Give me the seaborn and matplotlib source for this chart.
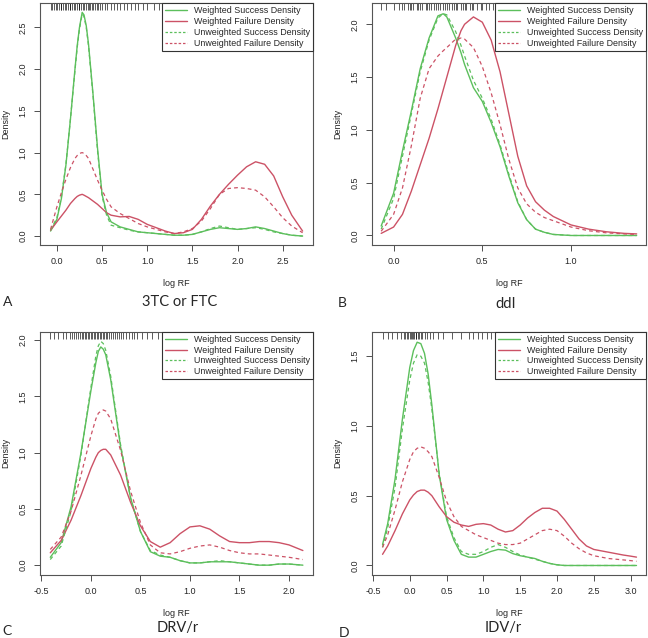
import numpy as np
import pandas as pd
import matplotlib
matplotlib.use("Agg")
import matplotlib.pyplot as plt
import seaborn as sns

# ---- data (x = log RF, y = density) ----
# Panel A: 3TC or FTC
a_x = [-0.07, 0.0, 0.05, 0.1, 0.15, 0.2, 0.225, 0.25, 0.28, 0.3, 0.325, 0.35, 0.4, 0.45, 0.5, 0.55, 0.6, 0.7,
       0.8, 0.9, 1.0, 1.1, 1.2, 1.3, 1.4, 1.5, 1.6, 1.7, 1.8, 1.9, 2.0, 2.1, 2.2, 2.3, 2.4, 2.5, 2.6, 2.72]
a_ws = [0.06, 0.20, 0.45, 0.85, 1.40, 2.00, 2.28, 2.50, 2.68, 2.65, 2.52, 2.30, 1.70, 1.05, 0.50, 0.28, 0.17, 0.11,
        0.08, 0.05, 0.04, 0.03, 0.02, 0.01, 0.01, 0.02, 0.05, 0.08, 0.10, 0.09, 0.08, 0.09, 0.11, 0.09, 0.06, 0.03,
        0.01, 0.00]
a_wf = [0.07, 0.17, 0.24, 0.31, 0.39, 0.45, 0.475, 0.49, 0.50, 0.49, 0.475, 0.46, 0.42, 0.38, 0.33, 0.28, 0.25,
        0.23, 0.235, 0.20, 0.14, 0.10, 0.06, 0.03, 0.04, 0.08, 0.20, 0.36, 0.50, 0.62, 0.73, 0.83, 0.89, 0.86,
        0.72, 0.47, 0.25, 0.06]
a_us = [0.07, 0.22, 0.47, 0.86, 1.40, 1.98, 2.26, 2.48, 2.66, 2.63, 2.50, 2.28, 1.68, 1.02, 0.48, 0.25, 0.13, 0.10,
        0.07, 0.05, 0.04, 0.03, 0.02, 0.01, 0.01, 0.02, 0.05, 0.09, 0.12, 0.10, 0.08, 0.09, 0.10, 0.08, 0.05, 0.03,
        0.01, 0.00]
a_uf = [0.08, 0.35, 0.52, 0.68, 0.82, 0.93, 0.965, 0.99, 1.00, 0.99, 0.965, 0.93, 0.80, 0.67, 0.55, 0.44, 0.35,
        0.27, 0.21, 0.15, 0.11, 0.08, 0.05, 0.03, 0.05, 0.09, 0.18, 0.33, 0.50, 0.57, 0.58, 0.57, 0.55, 0.47, 0.35,
        0.22, 0.12, 0.04]
a_rug = [-0.07, -0.05, -0.03, -0.01, 0.0, 0.02, 0.04, 0.05, 0.07, 0.09, 0.1, 0.12, 0.14, 0.15, 0.17, 0.19, 0.2,
         0.22, 0.24, 0.25, 0.27, 0.29, 0.3, 0.32, 0.34, 0.35, 0.37, 0.39, 0.4, 0.42, 0.44, 0.46, 0.48, 0.5,
         0.53, 0.56, 0.6, 0.63, 0.66, 0.7, 0.74, 0.78, 0.82, 0.86, 0.9, 0.95, 1.0, 1.08, 1.13, 1.22, 1.35,
         1.48, 1.52, 1.56, 1.6, 1.63, 1.66, 1.7, 1.73, 1.76, 1.8, 1.83, 1.86, 1.9, 1.93, 1.96, 2.0, 2.03,
         2.06, 2.1, 2.13, 2.16, 2.2, 2.23, 2.26, 2.3, 2.33, 2.36, 2.4, 2.45, 2.5, 2.55, 2.62, 2.72]

# Panel B: ddI
b_x = [-0.07, 0.0, 0.05, 0.1, 0.15, 0.2, 0.25, 0.28, 0.3, 0.35, 0.38, 0.4, 0.45, 0.5, 0.55, 0.6, 0.65, 0.7,
       0.75, 0.8, 0.85, 0.9, 1.0, 1.1, 1.2, 1.3, 1.37]
b_ws = [0.09, 0.40, 0.80, 1.18, 1.58, 1.87, 2.08, 2.10, 2.07, 1.87, 1.73, 1.62, 1.40, 1.27, 1.07, 0.84, 0.56, 0.31,
        0.15, 0.06, 0.03, 0.01, 0.00, 0.00, 0.00, 0.00, 0.00]
b_wf = [0.02, 0.08, 0.20, 0.42, 0.67, 0.92, 1.20, 1.38, 1.50, 1.80, 1.94, 2.00, 2.07, 2.02, 1.85, 1.55, 1.15, 0.75,
        0.47, 0.32, 0.24, 0.18, 0.10, 0.06, 0.035, 0.02, 0.015]
b_us = [0.06, 0.35, 0.75, 1.15, 1.55, 1.85, 2.06, 2.10, 2.09, 1.93, 1.80, 1.70, 1.47, 1.30, 1.10, 0.86, 0.58, 0.32,
        0.15, 0.06, 0.03, 0.01, 0.00, 0.00, 0.00, 0.00, 0.00]
b_uf = [0.04, 0.20, 0.45, 0.85, 1.30, 1.58, 1.70, 1.75, 1.78, 1.86, 1.87, 1.86, 1.78, 1.60, 1.35, 1.05, 0.72, 0.45,
        0.30, 0.22, 0.17, 0.14, 0.08, 0.045, 0.025, 0.015, 0.01]
b_rug = [-0.07, -0.04, 0.0, 0.03, 0.05, 0.06, 0.08, 0.09, 0.1, 0.11, 0.13, 0.14, 0.15, 0.16, 0.18, 0.19, 0.2, 0.21,
         0.23, 0.24, 0.25, 0.26, 0.28, 0.29, 0.3, 0.31, 0.33, 0.34, 0.35, 0.36, 0.38, 0.39, 0.4, 0.41, 0.43,
         0.44, 0.45, 0.47, 0.49, 0.5, 0.52, 0.54, 0.56, 0.58, 0.6, 0.62, 0.64, 0.66, 0.7, 0.74, 0.78, 0.8, 0.86,
         0.9, 0.96, 1.02, 1.1, 1.18, 1.37]

# Panel C: DRV/r
c_x = [-0.41, -0.3, -0.2, -0.1, 0.0, 0.05, 0.075, 0.1, 0.125, 0.15, 0.2, 0.3, 0.4, 0.5, 0.6, 0.7, 0.8, 0.9, 1.0,
       1.1, 1.2, 1.3, 1.4, 1.5, 1.6, 1.7, 1.8, 1.9, 2.0, 2.14]
c_ws = [0.07, 0.20, 0.52, 1.00, 1.55, 1.80, 1.90, 1.94, 1.92, 1.87, 1.65, 1.05, 0.60, 0.30, 0.12, 0.08, 0.07, 0.04,
        0.02, 0.02, 0.03, 0.03, 0.03, 0.02, 0.01, 0.00, 0.00, 0.01, 0.01, 0.00]
c_wf = [0.11, 0.22, 0.40, 0.62, 0.86, 0.96, 1.00, 1.02, 1.03, 1.03, 0.98, 0.80, 0.56, 0.35, 0.21, 0.16, 0.20, 0.28,
        0.34, 0.35, 0.32, 0.26, 0.21, 0.20, 0.20, 0.21, 0.21, 0.20, 0.18, 0.13]
c_us = [0.05, 0.17, 0.48, 0.98, 1.58, 1.86, 1.95, 1.99, 1.97, 1.91, 1.68, 1.07, 0.60, 0.30, 0.13, 0.09, 0.07, 0.04,
        0.02, 0.02, 0.03, 0.04, 0.03, 0.02, 0.01, 0.00, 0.00, 0.01, 0.01, 0.00]
c_uf = [0.14, 0.25, 0.48, 0.80, 1.15, 1.30, 1.35, 1.37, 1.38, 1.37, 1.30, 1.02, 0.66, 0.38, 0.18, 0.11, 0.10, 0.12,
        0.15, 0.17, 0.18, 0.16, 0.13, 0.11, 0.10, 0.10, 0.09, 0.08, 0.07, 0.05]
c_rug = [-0.41, -0.37, -0.33, -0.28, -0.25, -0.21, -0.19, -0.17, -0.15, -0.13, -0.11, -0.09, -0.08, -0.06, -0.05,
         -0.03, -0.02, 0.0, 0.01, 0.03, 0.04, 0.06, 0.07, 0.09, 0.1, 0.12, 0.13, 0.15, 0.16, 0.18, 0.2, 0.22,
         0.24, 0.26, 0.28, 0.3, 0.32, 0.35, 0.38, 0.41, 0.44, 0.47, 0.52, 0.57, 0.62, 0.68, 0.72, 0.8, 0.85,
         0.89, 0.93, 0.98, 1.05, 1.1, 1.12, 1.14, 1.16, 1.3, 1.4, 1.5, 1.62, 1.78, 1.9, 2.14]

# Panel D: IDV/r
d_x = [-0.37, -0.3, -0.2, -0.1, 0.0, 0.05, 0.1, 0.15, 0.2, 0.25, 0.3, 0.4, 0.5, 0.6, 0.7, 0.8, 0.9, 1.0, 1.1,
       1.2, 1.3, 1.4, 1.5, 1.6, 1.7, 1.8, 1.9, 2.0, 2.1, 2.2, 2.3, 2.4, 2.5, 2.6, 2.7, 2.8, 2.9, 3.0, 3.08]
d_ws = [0.15, 0.30, 0.62, 1.05, 1.42, 1.54, 1.60, 1.59, 1.52, 1.37, 1.15, 0.65, 0.33, 0.18, 0.08, 0.06, 0.06, 0.08,
        0.10, 0.115, 0.11, 0.085, 0.07, 0.06, 0.05, 0.03, 0.015, 0.005, 0.0, 0.0, 0.0, 0.0, 0.0, 0.0, 0.0, 0.0, 0.0,
        0.0, 0.0]
d_wf = [0.08, 0.14, 0.25, 0.37, 0.47, 0.505, 0.53, 0.54, 0.54, 0.525, 0.50, 0.42, 0.35, 0.31, 0.29, 0.28, 0.295,
        0.30, 0.29, 0.26, 0.24, 0.25, 0.29, 0.34, 0.38, 0.41, 0.41, 0.39, 0.33, 0.26, 0.19, 0.14, 0.115, 0.105,
        0.095, 0.085, 0.075, 0.067, 0.06]
d_us = [0.13, 0.27, 0.56, 0.98, 1.33, 1.45, 1.51, 1.50, 1.45, 1.31, 1.12, 0.66, 0.35, 0.20, 0.10, 0.08, 0.08, 0.10,
        0.13, 0.15, 0.13, 0.10, 0.075, 0.06, 0.045, 0.03, 0.015, 0.005, 0.0, 0.0, 0.0, 0.0, 0.0, 0.0, 0.0, 0.0,
        0.0, 0.0, 0.0]
d_uf = [0.13, 0.22, 0.40, 0.60, 0.76, 0.815, 0.84, 0.85, 0.84, 0.815, 0.78, 0.63, 0.46, 0.35, 0.28, 0.25, 0.22,
        0.20, 0.18, 0.16, 0.15, 0.15, 0.16, 0.19, 0.22, 0.25, 0.26, 0.25, 0.21, 0.16, 0.12, 0.09, 0.07, 0.06,
        0.05, 0.045, 0.04, 0.035, 0.03]
d_rug = [-0.37, -0.3, -0.24, -0.17, -0.12, -0.08, -0.06, -0.04, -0.02, 0.0, 0.02, 0.03, 0.05, 0.06, 0.08, 0.09,
         0.11, 0.13, 0.15, 0.17, 0.2, 0.23, 0.27, 0.32, 0.38, 0.45, 0.58, 0.7, 0.8, 0.86, 0.93, 0.98, 1.05, 1.1,
         1.17, 1.22, 1.3, 1.42, 1.47, 1.55, 1.6, 1.66, 1.72, 1.8, 1.9, 2.0, 2.3, 2.55, 3.08]

panels = [
    dict(letter="A", drug="3TC or FTC", x=a_x, ws=a_ws, wf=a_wf, us=a_us, uf=a_uf, rug=a_rug,
         xlim=(-0.185, 2.835), ylim=(-0.107, 2.79), xticks=[0.0, 0.5, 1.0, 1.5, 2.0, 2.5],
         yticks=[0.0, 0.5, 1.0, 1.5, 2.0, 2.5]),
    dict(letter="B", drug="ddI", x=b_x, ws=b_ws, wf=b_wf, us=b_us, uf=b_uf, rug=b_rug,
         xlim=(-0.122, 1.423), ylim=(-0.09, 2.2), xticks=[0.0, 0.5, 1.0],
         yticks=[0.0, 0.5, 1.0, 1.5, 2.0]),
    dict(letter="C", drug="DRV/r", x=c_x, ws=c_ws, wf=c_wf, us=c_us, uf=c_uf, rug=c_rug,
         xlim=(-0.512, 2.242), ylim=(-0.086, 2.075), xticks=[-0.5, 0.0, 0.5, 1.0, 1.5, 2.0],
         yticks=[0.0, 0.5, 1.0, 1.5, 2.0]),
    dict(letter="D", drug="IDV/r", x=d_x, ws=d_ws, wf=d_wf, us=d_us, uf=d_uf, rug=d_rug,
         xlim=(-0.514, 3.21), ylim=(-0.067, 1.675), xticks=[-0.5, 0.0, 0.5, 1.0, 1.5, 2.0, 2.5, 3.0],
         yticks=[0.0, 0.5, 1.0, 1.5]),
]

GREEN = "#5cbf5c"
RED = "#cc5266"

sns.set_style("white")
plt.rcParams["font.family"] = ["Liberation Sans", "DejaVu Sans"]

fig = plt.figure(figsize=(6.48, 6.38), dpi=100)

# axes boxes in figure fractions: [left, bottom, width, height]
boxes = [
    [0.062, 0.616, 0.421, 0.379],
    [0.574, 0.616, 0.423, 0.379],
    [0.062, 0.099, 0.421, 0.381],
    [0.574, 0.099, 0.423, 0.381],
]


def draw_panel(ax, p):
    sns.lineplot(x=p["x"], y=p["ws"], ax=ax, color=GREEN, lw=1.0, estimator=None,
                 label="Weighted Success Density")
    sns.lineplot(x=p["x"], y=p["wf"], ax=ax, color=RED, lw=1.0, estimator=None,
                 label="Weighted Failure Density")
    sns.lineplot(x=p["x"], y=p["us"], ax=ax, color=GREEN, lw=0.9, estimator=None,
                 label="Unweighted Success Density")
    sns.lineplot(x=p["x"], y=p["uf"], ax=ax, color=RED, lw=0.9, estimator=None,
                 label="Unweighted Failure Density")
    ax.lines[2].set_dashes((3, 2.5))
    ax.lines[3].set_dashes((3, 2.5))

    # rug along the top edge
    ax.vlines(p["rug"], 0.97, 1.0, transform=ax.get_xaxis_transform(),
              color="black", lw=0.6, alpha=0.75)

    ax.set_xlim(*p["xlim"])
    ax.set_ylim(*p["ylim"])
    ax.set_xticks(p["xticks"])
    ax.set_yticks(p["yticks"])
    ax.set_xticklabels([f"{t:.1f}" for t in p["xticks"]], fontsize=6.5)
    ax.set_yticklabels([f"{t:.1f}" for t in p["yticks"]], fontsize=6.5, rotation=90, va="center")
    ax.tick_params(axis="both", direction="out", length=4, width=0.6, color="#333333",
                   bottom=True, left=True, pad=5)
    ax.set_xlabel("log RF", fontsize=6.5, labelpad=9)
    ax.set_ylabel("Density", fontsize=6.5, labelpad=6)
    for s in ax.spines.values():
        s.set_color("#555555")
        s.set_linewidth(0.8)

    leg = ax.legend(loc="upper right", fontsize=6.4, frameon=True, fancybox=False,
                    borderaxespad=0, framealpha=1, edgecolor="#333333",
                    handlelength=2.4, labelspacing=0.2, borderpad=0.35, handletextpad=0.8)
    leg.get_frame().set_linewidth(0.8)
    leg.get_lines()[2].set_dashes((2, 1.5))
    leg.get_lines()[3].set_dashes((2, 1.5))


for p, box in zip(panels, boxes):
    ax = fig.add_axes(box)
    draw_panel(ax, p)

# panel letters and drug names below each panel
cap_font = ["Lato", "DejaVu Sans"]
fig.text(8 / 648, 1 - 302 / 638, "A", fontsize=10, family=cap_font, va="center", ha="center")
fig.text(180 / 648, 1 - 302 / 638, "3TC or FTC", fontsize=10.5, family=cap_font, va="center", ha="center")
fig.text(342 / 648, 1 - 303 / 638, "B", fontsize=10, family=cap_font, va="center", ha="center")
fig.text(506 / 648, 1 - 304 / 638, "ddI", fontsize=10.5, family=cap_font, va="center", ha="center")
fig.text(7 / 648, 1 - 631 / 638, "C", fontsize=10, family=cap_font, va="center", ha="center")
fig.text(178 / 648, 1 - 628 / 638, "DRV/r", fontsize=10.5, family=cap_font, va="center", ha="center")
fig.text(344 / 648, 1 - 633 / 638, "D", fontsize=10, family=cap_font, va="center", ha="center")
fig.text(503 / 648, 1 - 628 / 638, "IDV/r", fontsize=10.5, family=cap_font, va="center", ha="center")

fig.savefig("out.png", dpi=100)
